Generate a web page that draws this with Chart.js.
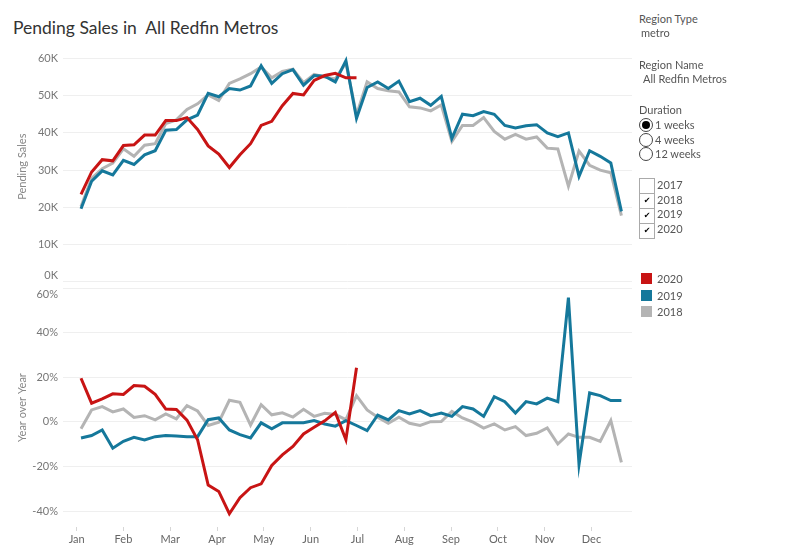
<!DOCTYPE html>
<html>
<head>
<meta charset="utf-8">
<title>Pending Sales in All Redfin Metros</title>
<script src="https://cdn.jsdelivr.net/npm/chart.js@4.4.1/dist/chart.umd.min.js"></script>
<style>
  html, body { margin: 0; padding: 0; background: #fff; }
  body { width: 800px; height: 559px; position: relative; overflow: hidden; font-family: Lato, "Open Sans", sans-serif; }
  #title { position: absolute; left: 13px; top: 16px; font-size: 17.5px; line-height: 24px; color: #333; white-space: pre; }
  canvas { position: absolute; left: 0; }
  #salesChart { top: 40px; }
  #yoyChart { top: 270px; }
  .side { position: absolute; font-size: 11px; line-height: 14px; color: #555; white-space: nowrap; }
  .radio { position: absolute; left: 639px; width: 14px; height: 14px; box-sizing: border-box; border: 1px solid #444; border-radius: 50%; background: #fff; }
  .radio.on::after { content: ""; position: absolute; left: 2px; top: 2px; width: 8px; height: 8px; border-radius: 50%; background: #000; }
  .check { position: absolute; left: 639px; width: 16px; height: 16px; box-sizing: border-box; border: 1px solid #aaa; background: #fff; font-size: 8px; line-height: 14px; text-align: center; color: #000; font-family: "DejaVu Sans", sans-serif; }
  .swatch { position: absolute; left: 641px; width: 11px; height: 11px; }
</style>
</head>
<body>
<div id="title">Pending Sales in  All Redfin Metros</div>

<canvas id="salesChart" width="640" height="260"></canvas>
<canvas id="yoyChart" width="640" height="289"></canvas>

<div class="side" style="left:639px; top:12px">Region Type</div>
<div class="side" style="left:641px; top:26px">metro</div>
<div class="side" style="left:639px; top:58px">Region Name</div>
<div class="side" style="left:643px; top:72px">All Redfin Metros</div>
<div class="side" style="left:639px; top:103px">Duration</div>
<div class="radio on" style="top:118px"></div>
<div class="radio" style="top:133px"></div>
<div class="radio" style="top:147px"></div>
<div class="side" style="left:655px; top:118px">1 weeks</div>
<div class="side" style="left:655px; top:133px">4 weeks</div>
<div class="side" style="left:655px; top:147px">12 weeks</div>
<div class="check" style="top:178px"></div>
<div class="check" style="top:193px">✔</div>
<div class="check" style="top:208px">✔</div>
<div class="check" style="top:223px">✔</div>
<div class="side" style="left:657px; top:178px">2017</div>
<div class="side" style="left:657px; top:193px">2018</div>
<div class="side" style="left:657px; top:207px">2019</div>
<div class="side" style="left:657px; top:222px">2020</div>
<div class="swatch" style="top:273px; background:#c81414"></div>
<div class="swatch" style="top:290px; background:#15789b"></div>
<div class="swatch" style="top:306px; background:#b4b4b4"></div>
<div class="side" style="left:657px; top:272px">2020</div>
<div class="side" style="left:657px; top:289px">2019</div>
<div class="side" style="left:657px; top:305px">2018</div>

<script>
// weekly values, thousands of pending sales
const weekNumbers = Array.from({ length: 52 }, (_, i) => i + 1);
const monthLabels = ['Jan', 'Feb', 'Mar', 'Apr', 'May', 'Jun', 'Jul', 'Aug', 'Sep', 'Oct', 'Nov', 'Dec'];

const sales2020 = [23.5, 29.5, 32.8, 32.5, 36.6, 36.8, 39.4, 39.4, 43.3, 43.3,
  44.1, 40.9, 36.5, 34.3, 30.7, 34.1, 37.1, 42.0, 43.1, 47.3,
  50.6, 50.2, 54.1, 55.4, 56.0, 54.8, 54.8];
const sales2019 = [19.6, 27.0, 29.8, 28.7, 32.6, 31.5, 34.1, 35.2, 40.7, 40.9,
  43.5, 44.8, 50.6, 49.7, 51.9, 51.5, 52.6, 58.0, 53.3, 55.9,
  57.0, 52.8, 55.4, 55.2, 53.7, 59.4, 43.9, 52.2, 53.7, 51.9,
  53.9, 48.4, 49.3, 47.4, 49.8, 38.5, 45.0, 44.6, 45.7, 45.0,
  42.0, 41.3, 41.9, 42.2, 40.0, 39.0, 40.0, 28.3, 35.2, 33.7,
  31.9, 18.9];
const sales2018 = [20.2, 27.8, 30.4, 31.9, 35.7, 33.7, 36.7, 37.1, 42.5, 43.5,
  46.3, 47.8, 50.2, 48.7, 53.3, 54.5, 55.9, 57.7, 54.8, 56.5,
  57.1, 53.5, 55.7, 55.0, 54.5, 58.8, 44.8, 53.7, 51.9, 51.3,
  51.0, 47.0, 46.7, 45.9, 47.5, 37.7, 42.0, 42.0, 44.1, 40.4,
  38.3, 39.6, 38.3, 38.9, 35.9, 35.7, 25.7, 35.1, 31.3, 30.0,
  29.3, 17.8];

// year over year change, percent
const yoy2020 = [19.6, 8.4, 10.3, 12.6, 12.3, 16.3, 16.0, 12.4, 5.8, 5.6,
  0.8, -8.0, -28.3, -31.2, -41.2, -34.0, -29.5, -27.8, -19.5, -14.8,
  -11.0, -5.4, -2.4, 0.5, 4.3, -8.0, 24.3];
const yoy2019 = [-7.2, -6.1, -3.6, -11.8, -8.7, -6.9, -8.1, -6.6, -6.1, -6.3,
  -6.6, -6.6, 1.0, 1.8, -3.6, -5.7, -7.2, -0.4, -3.1, -0.4,
  -0.4, -0.4, 0.6, -0.9, -1.9, 0.6, -1.6, -3.9, 3.1, 0.9,
  5.1, 3.6, 5.1, 2.8, 4.0, 2.5, 6.9, 5.8, 2.5, 11.3,
  9.1, 4.0, 9.1, 8.1, 10.7, 9.1, 55.8, -19.1, 13.0, 11.8,
  9.6, 9.6];
const yoy2018 = [-3.1, 5.4, 6.9, 4.5, 5.8, 2.0, 2.8, 0.9, 3.6, 1.4,
  7.3, 4.9, -1.6, -0.1, 9.7, 8.8, -1.4, 7.7, 3.2, 4.1,
  2.2, 5.7, 2.5, 3.9, 3.3, 1.0, 11.8, 5.4, 2.1, -0.6,
  2.1, -0.6, -1.6, 0.1, 0.2, 4.7, 1.8, -0.1, -2.8, -0.9,
  -3.6, -2.1, -6.1, -5.1, -2.7, -9.9, -5.4, -6.9, -6.9, -8.7,
  0.6, -18.1];

const salesTicks = [0, 10, 20, 30, 40, 50, 60];
const salesTickLabels = ['0K', '10K', '20K', '30K', '40K', '50K', '60K'];
const yoyTicks = [-40, -20, 0, 20, 40, 60];
const yoyTickLabels = ['-40%', '-20%', '0%', '20%', '40%', '60%'];

const colors = { 2020: '#c81414', 2019: '#15789b', 2018: '#b4b4b4' };

// month ticks sit evenly along the week axis
const monthTickWeeks = monthLabels.map((m, i) => 0.59 + i * 53 / 12);

Chart.defaults.font.family = "Lato, 'Open Sans', sans-serif";
Chart.defaults.font.size = 11;
Chart.defaults.animation = false;

function line(label, values, color) {
  return {
    label: label,
    data: values.map((v, i) => ({ x: weekNumbers[i], y: v })),
    borderColor: color,
    backgroundColor: color,
    borderWidth: 3,
    pointRadius: 0,
    tension: 0,
    fill: false
  };
}

function xAxis(show) {
  return {
    type: 'linear',
    min: -0.7,
    max: 53,
    display: show,
    afterBuildTicks: (s) => { s.ticks = monthTickWeeks.map(v => ({ value: v })); },
    afterFit: (s) => { s.height = show ? 32 : 0; },
    grid: { drawOnChartArea: false, drawTicks: true, tickLength: 4, color: '#d6d6d6' },
    border: { display: false },
    ticks: { autoSkip: false, maxRotation: 0, padding: 2, color: '#666', callback: (v, i) => monthLabels[i] }
  };
}

function yAxis(min, max, ticks, labels, title, firstDown) {
  return {
    min: min,
    max: max,
    afterBuildTicks: (s) => { s.ticks = ticks.map(v => ({ value: v })); },
    afterFit: (s) => { s.width = 63; },
    grid: { color: '#efefef', drawTicks: false },
    border: { display: false },
    ticks: {
      padding: 5,
      color: '#777',
      callback: (v, i) => {
        // nudge the edge labels inside the pane, like the original
        if (!firstDown && i === 0) return [labels[i], ''];
        if (firstDown && i === ticks.length - 1) return ['', labels[i]];
        return labels[i];
      }
    },
    title: { display: true, text: title, color: '#888', padding: { top: 16, bottom: 0 } }
  };
}

new Chart(document.getElementById('salesChart'), {
  type: 'line',
  data: {
    datasets: [
      line('2020', sales2020, colors[2020]),
      line('2019', sales2019, colors[2019]),
      line('2018', sales2018, colors[2018])
    ]
  },
  options: {
    responsive: false,
    layout: { padding: { top: 8, bottom: 15, left: 0, right: 8 } },
    plugins: { legend: { display: false }, tooltip: { enabled: false } },
    scales: {
      x: xAxis(false),
      y: yAxis(0, 61.83, salesTicks, salesTickLabels, 'Pending Sales', false)
    }
  }
});

new Chart(document.getElementById('yoyChart'), {
  type: 'line',
  data: {
    datasets: [
      line('2020', yoy2020, colors[2020]),
      line('2019', yoy2019, colors[2019]),
      line('2018', yoy2018, colors[2018])
    ]
  },
  options: {
    responsive: false,
    layout: { padding: { top: 17, bottom: 0, left: 0, right: 8 } },
    plugins: { legend: { display: false }, tooltip: { enabled: false } },
    scales: {
      x: xAxis(true),
      y: yAxis(-47.14, 60, yoyTicks, yoyTickLabels, 'Year over Year', true)
    }
  }
});
</script>
</body>
</html>
